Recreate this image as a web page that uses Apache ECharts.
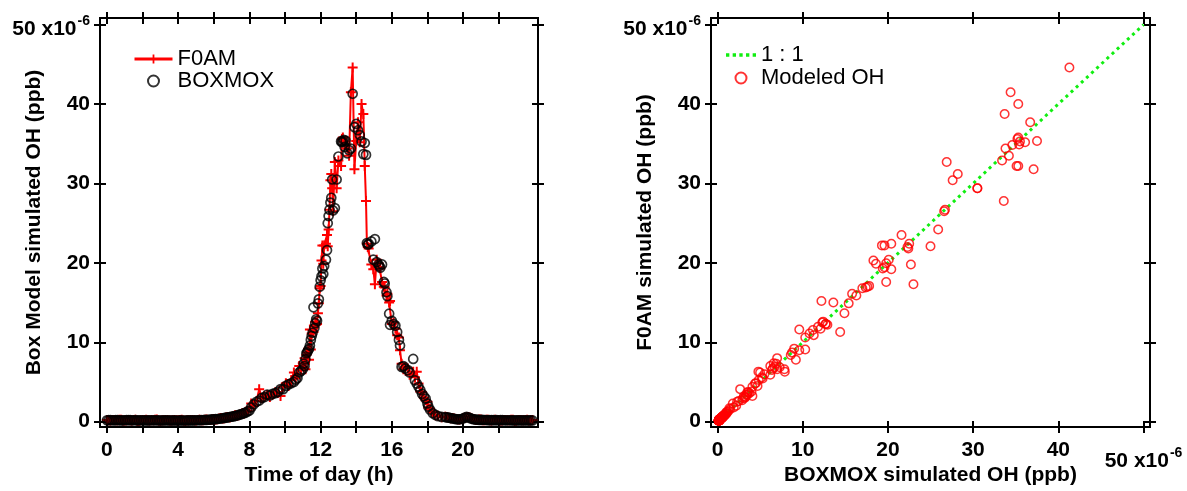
<!DOCTYPE html>
<html><head><meta charset="utf-8">
<script src="https://cdn.jsdelivr.net/npm/echarts@6/dist/echarts.min.js"></script>
<style>html,body{margin:0;padding:0;background:#fff}#c{width:1187px;height:491px}</style>
</head><body><div id="c"></div>
<script>
// ---- data ----
const hours = [
  0.0,0.1,0.2,0.3,0.4,0.5,0.6,0.7,0.8,0.9,1.0,1.1,1.2,1.3,1.4,1.5,1.6,1.7,1.8,1.9,2.0,2.1,2.2,2.3,2.4,2.5,2.6,2.7,2.8,2.9,
  3.0,3.1,3.2,3.3,3.4,3.5,3.6,3.7,3.8,3.9,4.0,4.1,4.2,4.3,4.4,4.5,4.6,4.7,4.8,4.9,5.0,5.1,5.2,5.3,5.4,5.5,5.6,5.7,5.8,5.9,
  6.0,6.1,6.2,6.3,6.4,6.5,6.6,6.7,6.8,6.9,7.0,7.1,7.2,7.3,7.4,7.5,7.6,7.7,7.8,7.9,
  8.0,8.1,8.25,8.4,8.55,8.7,8.85,9.0,9.15,9.3,9.45,9.6,9.75,9.9,10.05,10.2,10.35,10.5,10.6,10.7,10.8,10.9,
  11.0,11.05,11.1,11.15,11.2,11.25,11.3,11.35,11.4,11.45,11.5,11.55,11.6,11.65,11.7,11.75,11.8,11.85,11.9,11.95,
  12.0,12.05,12.1,12.15,12.2,12.3,12.36,12.4,12.45,12.5,12.55,12.6,12.65,12.7,12.8,12.9,
  13.0,13.15,13.2,13.25,13.3,13.35,13.4,13.5,13.6,13.7,13.8,13.9,
  14.0,14.1,14.2,14.3,14.4,14.48,14.55,14.6,14.65,14.7,14.85,14.96,
  15.05,15.15,15.25,15.3,15.35,15.45,15.55,15.6,15.7,15.75,15.85,15.9,
  16.0,16.1,16.2,16.3,16.4,16.46,16.55,16.65,16.75,16.9,
  17.0,17.2,17.3,17.4,17.5,17.6,17.7,17.8,17.9,
  18.0,18.05,18.15,18.3,18.45,18.6,18.8,19.0,
  19.1,19.2,19.3,19.4,19.5,19.6,19.7,19.8,19.9,20.0,20.1,20.2,20.3,20.4,20.5,20.6,20.7,20.8,20.9,21.0,
  21.1,21.2,21.3,21.4,21.5,21.6,21.7,21.8,21.9,22.0,22.1,22.2,22.3,22.4,22.5,22.6,22.7,22.8,22.9,23.0,
  23.1,23.2,23.3,23.4,23.5,23.6,23.7,23.8,23.9];
const boxmox = [
  0.18,0.19,0.20,0.18,0.17,0.19,0.19,0.18,0.16,0.17,0.18,0.19,0.20,0.19,0.17,0.18,0.19,0.17,0.16,0.18,
  0.18,0.17,0.17,0.16,0.16,0.18,0.17,0.17,0.18,0.16,0.15,0.16,0.16,0.17,0.17,0.16,0.15,0.16,0.16,0.15,
  0.15,0.16,0.16,0.15,0.15,0.16,0.17,0.16,0.16,0.17,0.18,0.18,0.19,0.20,0.21,0.22,0.23,0.24,0.26,0.28,
  0.30,0.32,0.34,0.37,0.40,0.43,0.47,0.51,0.55,0.59,0.63,0.67,0.72,0.78,0.85,0.92,1.00,1.07,1.15,1.28,
  1.40,1.80,2.20,2.50,2.66,3.00,3.10,3.40,3.30,3.50,3.60,3.75,4.10,4.10,4.50,4.70,4.85,5.00,5.30,5.50,6.20,6.40,
  6.60,7.30,7.00,7.85,8.60,8.75,9.00,9.20,9.60,10.30,10.80,11.20,14.40,11.80,12.40,12.90,12.70,14.90,15.40,17.00,
  17.80,18.30,19.30,18.60,19.60,20.40,21.60,25.00,25.90,26.70,27.60,28.20,30.50,26.60,26.90,30.50,
  33.40,35.30,35.20,35.30,35.50,34.60,35.40,33.80,34.20,34.40,41.30,37.10,
  37.50,36.70,36.10,35.30,33.70,35.10,33.60,22.50,22.30,22.40,22.70,20.40,
  23.00,20.10,19.80,19.60,19.40,19.80,17.60,17.40,16.30,15.80,13.60,12.20,
  12.70,12.30,12.10,11.30,10.30,9.60,6.90,7.00,6.70,6.50,
  6.20,7.90,5.20,4.80,4.40,4.00,3.50,3.20,2.90,
  2.30,1.90,1.50,1.06,0.85,0.70,0.60,0.58,
  0.54,0.50,0.46,0.42,0.37,0.32,0.30,0.30,0.34,0.40,0.52,0.60,0.55,0.45,0.36,0.30,0.27,0.25,0.23,0.22,
  0.22,0.21,0.21,0.20,0.20,0.19,0.20,0.20,0.19,0.18,0.19,0.19,0.18,0.17,0.18,0.18,0.17,0.17,0.16,0.16,
  0.17,0.17,0.16,0.16,0.17,0.17,0.16,0.16,0.16];
const f0am = [
  0.20,0.17,0.15,0.21,0.22,0.19,0.18,0.24,0.25,0.16,0.14,0.19,0.21,0.17,0.16,0.22,0.24,0.13,0.12,0.18,
  0.20,0.22,0.23,0.17,0.15,0.21,0.19,0.23,0.26,0.15,0.13,0.17,0.18,0.21,0.22,0.16,0.14,0.19,0.20,0.18,
  0.17,0.20,0.23,0.15,0.12,0.17,0.19,0.22,0.21,0.18,0.15,0.20,0.24,0.19,0.18,0.23,0.27,0.21,0.22,0.29,
  0.33,0.29,0.31,0.40,0.45,0.39,0.44,0.55,0.60,0.52,0.58,0.70,0.80,0.76,0.82,0.95,1.06,1.02,1.26,1.35,
  1.70,2.30,2.00,2.60,4.10,2.95,3.20,3.36,3.10,3.40,3.70,3.60,3.24,4.40,4.85,4.50,5.25,6.20,5.45,5.97,7.00,6.50,
  7.35,6.85,8.00,6.60,8.40,8.70,9.20,7.80,11.60,9.10,11.10,11.55,11.30,11.95,12.60,12.20,12.30,13.65,14.90,16.80,
  17.10,20.30,22.20,19.90,22.20,22.40,23.50,22.10,24.20,26.70,30.40,31.20,29.40,26.50,32.70,29.40,
  32.90,32.20,35.60,35.80,35.30,34.85,34.90,34.40,33.50,41.50,44.60,31.80,
  35.35,37.70,35.20,40.00,38.75,32.20,27.80,22.40,22.00,21.80,19.80,19.20,
  17.30,20.40,19.95,19.45,19.30,17.60,17.00,16.90,15.90,16.10,15.00,15.20,
  12.30,12.50,11.70,10.90,10.60,9.00,7.30,6.60,6.90,6.70,
  5.90,6.30,5.60,6.30,4.80,3.80,3.70,3.00,2.70,
  2.50,1.80,1.60,1.20,0.80,0.75,0.55,0.62,
  0.57,0.48,0.44,0.45,0.40,0.35,0.31,0.28,0.33,0.42,0.50,0.55,0.58,0.50,0.38,0.33,0.25,0.22,0.27,0.26,
  0.19,0.18,0.24,0.23,0.17,0.16,0.22,0.24,0.20,0.20,0.14,0.15,0.21,0.22,0.18,0.19,0.24,0.25,0.13,0.14,
  0.20,0.21,0.17,0.18,0.22,0.23,0.15,0.17,0.20];
const hourLabels = [0,4,8,12,16,20];
const hourTicks = [0,2,4,6,8,10,12,14,16,18,20,22];
const ohTicks = [0,10,20,30,40,50];
const boxmoxLabels = [0,10,20,30,40];
const boxmoxLabelOffset = [50];
const oneToOne = [0,50];

// ---- styling ----
const FF = '"Liberation Sans", Arial, Helvetica, sans-serif';
const LEFT_X = [-0.39, 24.21], OH_Y = [-0.67, 50.84], RIGHT_X = [-0.76, 50.76];
const rich = {
  n: {fontSize:21, fontWeight:'bold', fontFamily:FF, color:'#000', lineHeight:31, verticalAlign:'bottom'},
  s: {fontSize:14, fontWeight:'bold', fontFamily:FF, color:'#000', verticalAlign:'top', padding:[5,0,0,1]}
};
function fmtOH(v){ return v === 50 ? '{n|50 x10}{s|-6}' : String(v); }
const lbl = (vals, margin, extra) => Object.assign({show:true, customValues:vals, margin:margin, fontSize:21, fontWeight:'bold',
  fontFamily:FF, color:'#000', formatter: fmtOH, rich: rich}, extra||{});
const nameStyle = {fontSize:21, fontWeight:'bold', fontFamily:FF, color:'#000'};
function axis(grid, pos, inside, range, ticks, extra){
  return Object.assign({
    type:'value', gridIndex:grid, position:pos, min:range[0], max:range[1],
    splitLine:{show:false},
    axisLine:{show:true, onZero:false, lineStyle:{color:'#000', width:2}},
    axisTick:{show:true, inside:inside, length:6, customValues:ticks, lineStyle:{color:'#000', width:2}},
    axisLabel:{show:false}, axisPointer:{show:false}, nameMoveOverlap:false
  }, extra||{});
}
const PLUS = 'path://M4,0H6V4H10V6H6V10H4V6H0V4H4Z';

const xAxes = [
  axis(0,'bottom',false,LEFT_X,hourTicks,{axisLabel:lbl(hourLabels,13), name:'Time of day (h)', nameLocation:'middle', nameGap:38, nameTextStyle:nameStyle}),
  axis(0,'bottom',true,LEFT_X,hourTicks),
  axis(0,'top',false,LEFT_X,hourTicks),
  axis(0,'top',true,LEFT_X,hourTicks),
  axis(1,'bottom',false,RIGHT_X,ohTicks,{axisLabel:lbl(boxmoxLabels,13), name:'BOXMOX simulated OH (ppb)', nameLocation:'middle', nameGap:38, nameTextStyle:nameStyle}),
  axis(1,'bottom',true,RIGHT_X,ohTicks,{axisLabel:lbl(boxmoxLabelOffset,14,{inside:false})}),
  axis(1,'top',false,RIGHT_X,ohTicks),
  axis(1,'top',true,RIGHT_X,ohTicks)
];
const yAxes = [
  axis(0,'left',false,OH_Y,ohTicks,{axisLabel:lbl(ohTicks,10), name:'Box Model simulated OH (ppb)', nameLocation:'middle', nameGap:55, nameTextStyle:nameStyle}),
  axis(0,'left',true,OH_Y,ohTicks),
  axis(0,'right',false,OH_Y,ohTicks),
  axis(0,'right',true,OH_Y,ohTicks),
  axis(1,'left',false,OH_Y,ohTicks,{axisLabel:lbl(ohTicks,10), name:'F0AM simulated OH (ppb)', nameLocation:'middle', nameGap:55, nameTextStyle:nameStyle}),
  axis(1,'left',true,OH_Y,ohTicks),
  axis(1,'right',false,OH_Y,ohTicks),
  axis(1,'right',true,OH_Y,ohTicks)
];

const chart = echarts.init(document.getElementById('c'), null, {renderer:'canvas'});
chart.setOption({
  animation:false,
  backgroundColor:'#fff',
  grid:[
    {left:100, top:18, width:438, height:409, containLabel:false, outerBoundsMode:'none'},
    {left:711, top:18, width:439, height:409, containLabel:false, outerBoundsMode:'none'}
  ],
  xAxis: xAxes,
  yAxis: yAxes,
  legend:[
    {left:133, top:48, padding:0, orient:'vertical', itemWidth:38, itemHeight:11, itemGap:0, selectedMode:false,
     textStyle:{fontSize:22, fontFamily:FF, color:'#000', lineHeight:22}, lineStyle:{width:3},
     data:[{name:'F0AM'},{name:'BOXMOX'}]},
    {left:726, top:44, padding:0, orient:'vertical', itemWidth:30, itemHeight:11, itemGap:1, selectedMode:false,
     textStyle:{fontSize:22, fontFamily:FF, color:'#000', lineHeight:22},
     data:[{name:'1 : 1', icon:'path://M0,0h3v3h-3zM6,0h3v3h-3zM12,0h3v3h-3zM18,0h3v3h-3zM24,0h3v3h-3z'},{name:'Modeled OH'}]}
  ],
  series:[
    {name:'F0AM', type:'line', xAxisIndex:0, yAxisIndex:0, z:2,
     data: hours.map((h,i)=>[h,f0am[i]]),
     symbol:PLUS, symbolSize:10, showSymbol:true,
     lineStyle:{color:'#ff0000', width:2}, itemStyle:{color:'#ff0000'}},
    {name:'BOXMOX', type:'scatter', xAxisIndex:0, yAxisIndex:0, z:3,
     data: hours.map((h,i)=>[h,boxmox[i]]),
     symbol:'circle', symbolSize:9,
     itemStyle:{color:'rgba(0,0,0,0)', borderColor:'#000', borderWidth:1.7}},
    {name:'1 : 1', type:'line', xAxisIndex:4, yAxisIndex:4, z:2,
     data: oneToOne.map(v=>[v,v]), symbol:'none',
     lineStyle:{color:'#11ee11', width:3, type:[3,4]}, itemStyle:{color:'#11ee11'}},
    {name:'Modeled OH', type:'scatter', xAxisIndex:4, yAxisIndex:4, z:3,
     data: boxmox.map((b,i)=>[b,f0am[i]]),
     symbol:'circle', symbolSize:8.5,
     itemStyle:{color:'rgba(0,0,0,0)', borderColor:'#ff0000', borderWidth:1.5}}
  ]
});
</script></body></html>
